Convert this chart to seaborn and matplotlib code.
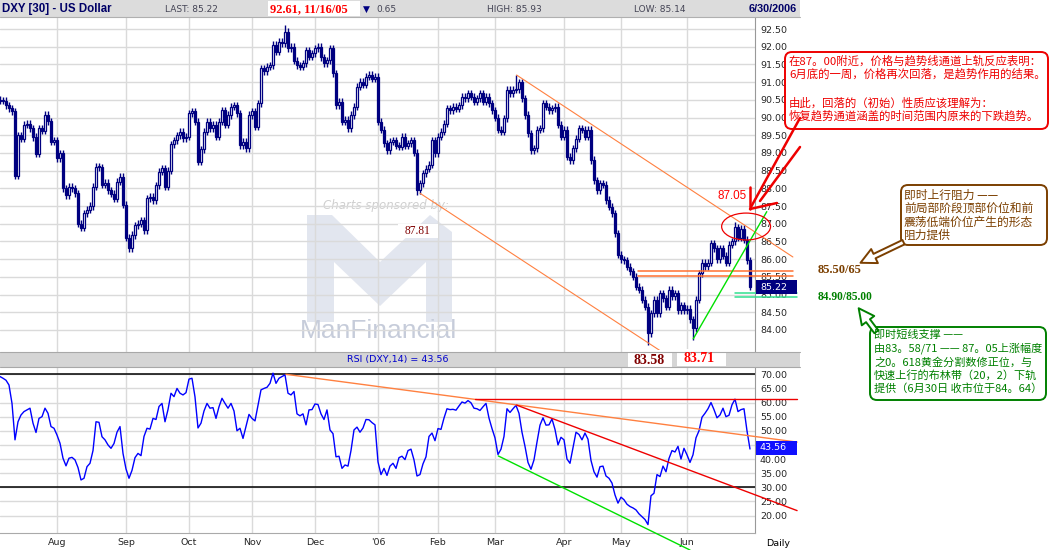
import numpy as np
import pandas as pd
import matplotlib
matplotlib.use("Agg")
import matplotlib.pyplot as plt
import matplotlib.patches as mpatches
from matplotlib.patches import FancyBboxPatch, FancyArrowPatch
from matplotlib.ticker import FormatStrFormatter
import seaborn as sns

# ---- daily closes of DXY ----
jul_close = [90.5, 90.47, 90.47, 90.35, 90.26, 90.17, 88.35, 89.5, 89.4, 89.79, 89.83, 89.7, 89.45, 88.98, 89.7,
             89.62, 90.07, 89.9, 89.32, 89.36]
aug_close = [88.85, 88.99, 88.0, 87.8, 88.05, 88.0, 87.86, 87.0, 86.88, 87.3, 87.4, 87.5, 88.05, 88.61, 88.6,
             88.1, 88.15, 87.95, 87.85, 87.7, 88.19, 88.33, 87.53]
sep_close = [86.6, 86.3, 86.68, 86.96, 87.0, 87.1, 86.82, 87.72, 87.76, 87.67, 88.09, 88.47, 88.56, 88.05, 88.5,
             89.25, 89.36, 89.5, 89.6, 89.41, 89.46]
oct_close = [90.12, 90.17, 89.88, 88.75, 89.1, 89.6, 89.88, 89.69, 89.79, 89.46, 89.88, 90.21, 89.79, 90.07, 90.3,
             90.35, 90.12, 89.22, 89.32, 89.13, 90.07]
nov_close = [90.17, 89.74, 90.4, 91.39, 91.3, 91.44, 91.48, 92.05, 91.86, 92.14, 92.1, 92.42, 91.95, 92.0, 91.6,
             91.48, 91.44, 91.53, 91.9, 91.72, 91.81]
dec_close = [91.95, 92.0, 91.7, 91.53, 91.62, 91.95, 91.25, 90.35, 90.45, 89.88, 89.93, 89.69, 90.07, 90.3, 90.87,
             91.01, 90.92, 91.15, 91.2, 91.1, 91.15]
jan_close = [89.88, 89.65, 89.27, 89.08, 89.32, 89.36, 89.2, 89.18, 89.46, 89.2, 89.27, 89.36, 89.0, 87.95, 88.14,
             88.42, 88.55, 88.66, 89.36, 88.99]
feb_close = [89.46, 89.6, 89.83, 90.26, 90.2, 90.3, 90.25, 90.35, 90.59, 90.55, 90.68, 90.59, 90.45, 90.54, 90.68,
             90.45, 90.59, 90.4, 90.21]
mar_close = [90.0, 89.65, 89.6, 89.98, 90.78, 90.68, 90.78, 90.8, 91.0, 90.54, 90.07, 89.55, 89.08, 89.13, 89.65,
             89.7, 90.4, 90.3, 90.2, 90.26, 90.3, 89.79, 89.46]
apr_close = [89.65, 88.89, 88.8, 89.13, 89.4, 89.69, 89.65, 89.46, 89.65, 88.8, 88.23, 87.95, 88.14, 88.1, 87.67,
             87.48, 87.29, 86.73, 86.12]
may_close = [86.0, 85.97, 85.79, 85.65, 85.5, 85.22, 85.13, 84.85, 84.66, 83.9, 84.47, 84.85, 84.47, 85.03, 84.9,
             84.66, 85.13, 84.95, 85.03, 84.56, 84.7, 84.56]
jun_close = [84.6, 84.3, 84.04, 84.85, 85.6, 85.9, 85.8, 85.9, 86.45, 86.3, 86.0, 86.3, 86.1, 85.9, 86.4,
             86.5, 86.9, 86.6, 86.85, 86.55, 85.97, 85.22]

# ---- RSI(14) ----
jul_rsi = [69.5, 69.2, 68.6, 67.9, 66.2, 59.7, 46.8, 53.2, 55.6, 56.8, 57.4, 58.0, 52.7, 49.4, 54.4, 55.0, 58.0,
           56.2, 51.5, 50.9]
aug_rsi = [48.5, 45.6, 40.3, 37.6, 40.3, 40.6, 39.7, 37.0, 32.6, 33.2, 37.3, 38.5, 43.0, 53.2, 53.0, 47.9, 46.8,
           45.0, 43.8, 45.5, 49.5, 51.5, 42.0]
sep_rsi = [36.5, 33.2, 36.0, 40.5, 42.0, 41.2, 48.0, 50.9, 50.6, 54.4, 54.0, 58.6, 59.7, 53.2, 57.5, 63.3, 62.1,
           65.0, 63.3, 62.7, 63.5]
oct_rsi = [68.3, 68.6, 62.0, 51.0, 52.7, 57.0, 59.7, 58.0, 58.2, 54.4, 58.5, 61.5, 59.7, 58.0, 59.7, 57.0, 50.0,
           50.9, 47.3, 51.5, 55.8]
nov_rsi = [54.4, 53.5, 59.1, 64.5, 65.0, 65.4, 66.8, 70.4, 66.8, 68.6, 69.2, 69.8, 63.3, 62.7, 63.9, 56.0, 55.3,
           56.0, 52.1, 57.4, 57.5]
dec_rsi = [59.5, 59.3, 56.0, 54.0, 57.4, 50.3, 49.0, 40.8, 41.0, 36.7, 37.9, 37.5, 43.0, 50.3, 51.3, 49.5, 51.0,
           54.0, 53.9, 52.9, 52.1]
jan_rsi = [39.0, 34.5, 36.7, 34.2, 37.5, 38.5, 36.7, 40.5, 41.0, 39.8, 43.0, 43.5, 39.7, 34.0, 34.5, 38.3, 40.8,
           48.0, 49.2, 46.5]
feb_rsi = [50.8, 50.5, 54.5, 57.8, 57.5, 57.6, 57.3, 58.8, 60.2, 59.8, 60.7, 59.9, 58.0, 57.8, 57.2, 58.5, 59.7,
           54.5, 50.8]
mar_rsi = [47.5, 41.6, 43.5, 48.0, 57.8, 56.5, 57.8, 59.0, 56.2, 49.5, 44.5, 38.8, 36.4, 39.7, 46.0, 52.0, 54.6,
           52.0, 52.1, 54.2, 50.5, 45.0, 47.7]
apr_rsi = [46.8, 40.0, 38.5, 44.0, 49.5, 48.7, 46.8, 49.2, 47.0, 39.5, 35.5, 33.6, 37.3, 37.5, 34.0, 33.2, 31.5,
           27.3, 24.4]
may_rsi = [26.5, 25.6, 24.0, 23.2, 22.7, 22.0, 20.6, 19.6, 18.6, 16.8, 27.0, 27.9, 34.5, 33.8, 37.5, 35.5, 40.2,
           43.0, 42.5, 44.5, 40.0, 43.8]
jun_rsi = [41.5, 38.8, 41.5, 47.5, 50.0, 54.8, 56.2, 57.8, 60.0, 57.5, 54.6, 55.6, 58.0, 55.0, 55.5, 59.2, 61.2,
           56.8, 57.5, 57.8, 50.0, 43.56]

# labelled extremes (trading-day index -> price)
high_marks = {96: 92.61, 173: 91.2, 246: 87.05}
low_marks = {140: 87.81, 217: 83.58, 232: 83.71}

holidays = ['2005-07-04', '2005-09-05', '2005-11-24', '2005-12-26', '2006-01-02', '2006-01-16',
            '2006-02-20', '2006-04-14', '2006-05-29']
month_names = ['Aug', 'Sep', 'Oct', 'Nov', 'Dec', "'06", 'Feb', 'Mar', 'Apr', 'May', 'Jun']

# trend lines drawn on the chart (trading-day index, value)
chan_top = ([173.2, 265.3], [91.2, 86.06])
chan_bot = ([141.0, 228.3], [87.86, 83.01])
res_levels = [85.66, 85.51]
res_span = [213.7, 265.3]
sup_levels = [85.03, 84.92]
sup_span = [246.0, 266.7]
up_trend = ([232.1, 256.6], [83.75, 87.34])
rsi_top = ([96.3, 266.7], [70.0, 46.0])
rsi_flat = 61.1
rsi_flat_span = [159.3, 266.7]
rsi_fall = ([173.2, 266.7], [59.1, 21.75])
rsi_floor = ([167.1, 231.0], [41.1, 7.8])

close = np.array(jul_close + aug_close + sep_close + oct_close + nov_close + dec_close +
                 jan_close + feb_close + mar_close + apr_close + may_close + jun_close)
rsi = np.array(jul_rsi + aug_rsi + sep_rsi + oct_rsi + nov_rsi + dec_rsi +
               jan_rsi + feb_rsi + mar_rsi + apr_rsi + may_rsi + jun_rsi)

days = pd.bdate_range('2005-07-01', '2006-06-30')
days = days[~days.isin(pd.to_datetime(holidays))]
n = len(days)
x = np.arange(n)
month_idx = [i for i in range(1, n) if days[i].month != days[i - 1].month]

sns.set_style("white")
plt.rcParams['font.family'] = ['DejaVu Sans']

W, H = 1051, 550
fig = plt.figure(figsize=(W / 100, H / 100), dpi=100)
NAVY = '#000080'
ORANGE = '#ff8040'
GRID = '#dadada'
CJK = ['Noto Sans CJK SC', 'DejaVu Sans']

ax_p = fig.add_axes([0, 1 - 352 / H, 755 / W, 335 / H])
ax_r = fig.add_axes([0, 1 - 533 / H, 755 / W, 166 / H])
ov = fig.add_axes([0, 0, 1, 1], zorder=10)
ov.set_xlim(0, W)
ov.set_ylim(H, 0)
ov.axis('off')
px = ov.transData

# ---- watermark ----
m_shape = [(307, 322), (307, 215), (332, 215), (380, 262), (430, 215), (452, 232), (452, 322),
           (426, 322), (426, 262), (380, 306), (334, 262), (334, 322)]
ax_p.add_patch(mpatches.Polygon(m_shape, closed=True, fc='#e2e6ef', ec='none', transform=px, zorder=0.2))
ax_p.text(323, 205, 'Charts sponsored by:', transform=px, fontsize=8.5, style='italic',
          color='#cfcfcf', va='center', zorder=0.2)
ax_p.text(378, 331, 'ManFinancial', transform=px, fontsize=19, color='#c6ccda', ha='center',
          va='center', family='Liberation Sans', zorder=0.2)

# ---- candles ----
opn = np.r_[close[0], close[:-1]]
up = close >= opn
b_lo = np.minimum(opn, close)
b_hi = np.maximum(opn, close)
hi = b_hi + 0.1
lo = b_lo - 0.1
for k, v in high_marks.items():
    hi[k] = v
for k, v in low_marks.items():
    lo[k] = v
ax_p.vlines(x, lo, hi, color=NAVY, lw=1.0, zorder=3)
hgt = np.maximum(b_hi - b_lo, 0.03)
ax_p.bar(x[up], hgt[up], bottom=b_lo[up], width=0.7, color='white', edgecolor=NAVY, lw=0.9, zorder=4)
ax_p.bar(x[~up], hgt[~up], bottom=b_lo[~up], width=0.7, color=NAVY, edgecolor=NAVY, lw=0.9, zorder=4)

# ---- price trend lines ----
ax_p.plot(*chan_top, color=ORANGE, lw=0.8, clip_on=False, zorder=5)
ax_p.plot(*chan_bot, color=ORANGE, lw=0.8, clip_on=False, zorder=5)
for lv in res_levels:
    ax_p.plot(res_span, [lv, lv], color='#ff7030', lw=1.1, clip_on=False, zorder=5)
for lv in sup_levels:
    ax_p.plot(sup_span, [lv, lv], color='#30e090', lw=1.1, clip_on=False, zorder=5)
ax_p.plot(*up_trend, color='#00e000', lw=1.0, clip_on=False, zorder=5)
ax_p.add_patch(mpatches.Ellipse((249.7, 86.92), 16.3, 0.76, fill=False, ec='#ee0000', lw=0.9,
                                clip_on=False, zorder=6))

ax_p.set_xlim(1, 252.67)
ax_p.set_ylim(92.5 - (352 - 29) / 35.4, 92.5 + 12 / 35.4)
ax_p.set_yticks(np.arange(84, 92.51, 0.5))
ax_p.yaxis.set_major_formatter(FormatStrFormatter('%.2f'))
ax_p.yaxis.tick_right()
ax_p.set_xticks(month_idx)
ax_p.set_xticklabels([])
ax_p.tick_params(length=0, labelsize=6.8, pad=3.6)
ax_p.grid(True, color=GRID, lw=1)
ax_p.set_axisbelow(True)
for s in ['top', 'left', 'bottom']:
    ax_p.spines[s].set_visible(False)
ax_p.spines['right'].set_color('#999999')

# ---- RSI panel ----
sns.lineplot(x=x, y=rsi, ax=ax_r, color='#0000ff', lw=1.0, zorder=4)
for lv in [70, 30]:
    ax_r.axhline(lv, color='black', lw=1.1, zorder=3)
ax_r.plot(*rsi_top, color=ORANGE, lw=1.0, clip_on=False, zorder=5)
ax_r.plot(rsi_flat_span, [rsi_flat, rsi_flat], color='#ee0000', lw=1.0, clip_on=False, zorder=5)
ax_r.plot(*rsi_fall, color='#ee0000', lw=1.0, clip_on=False, zorder=5)
ax_r.plot(*rsi_floor, color='#00e000', lw=1.0, clip_on=False, zorder=5)
ax_r.set_xlim(1, 252.67)
ax_r.set_ylim(70 - (533 - 374.3) / 2.825, 70 + (374.3 - 367) / 2.825)
ax_r.set_yticks(np.arange(20, 70.1, 5))
ax_r.yaxis.set_major_formatter(FormatStrFormatter('%.2f'))
ax_r.yaxis.tick_right()
ax_r.set_xticks(month_idx)
ax_r.set_xticklabels(month_names)
ax_r.tick_params(length=0, labelsize=6.8, pad=3.6)
ax_r.grid(True, color=GRID, lw=1)
ax_r.set_axisbelow(True)
ax_r.set_xlabel('')
ax_r.set_ylabel('')
for s in ['top', 'left']:
    ax_r.spines[s].set_visible(False)
ax_r.spines['right'].set_color('#999999')
ax_r.spines['bottom'].set_color('#aaaaaa')

# ---- header bar ----
ov.add_patch(mpatches.Rectangle((0, 0), 800, 17, fc='#dcdcdc', ec='none'))
ov.plot([0, 800], [17, 17], color='#b0b0b0', lw=0.8)
ov.add_patch(mpatches.Rectangle((268, 1), 92, 15, fc='white', ec='none'))
ov.text(2, 9, 'DXY [30] - US Dollar', fontsize=8.3, weight='bold', color='#000066', va='center',
        family='Liberation Sans')
ov.text(165, 9, 'LAST: 85.22', fontsize=6.5, color='#444455', va='center')
ov.text(270, 9, '92.61, 11/16/05', fontsize=9, weight='bold', color='#ff0000', va='center',
        family='Liberation Serif')
ov.text(363, 9, '\u25bc', fontsize=6.5, color=NAVY, va='center')
ov.text(376, 9, '0.65', fontsize=6.5, color='#444455', va='center')
ov.text(487, 9, 'HIGH: 85.93', fontsize=6.5, color='#444455', va='center')
ov.text(634, 9, 'LOW: 85.14', fontsize=6.5, color='#444455', va='center')
ov.text(797, 9, '6/30/2006', fontsize=7.8, weight='bold', color='#000066', va='center', ha='right',
        family='Liberation Sans')

# ---- RSI header bar ----
ov.add_patch(mpatches.Rectangle((0, 352), 800, 15, fc='#d5d5d5', ec='none'))
ov.plot([0, 800], [352, 352], color='#a8a8a8', lw=0.8)
ov.plot([0, 800], [367, 367], color='#a8a8a8', lw=0.8)
ov.text(398, 359.5, 'RSI (DXY,14) = 43.56', fontsize=6.8, color='#0000cc', ha='center', va='center')
ov.add_patch(mpatches.Rectangle((628, 350), 44, 18, fc='white', ec='none'))
ov.add_patch(mpatches.Rectangle((677, 349), 49, 17, fc='white', ec='none'))
ov.text(649, 360, '83.58', fontsize=10, weight='bold', color='#800000', ha='center', va='center',
        family='Liberation Serif')
ov.text(699, 358, '83.71', fontsize=10, weight='bold', color='#ff0000', ha='center', va='center',
        family='Liberation Serif')

# ---- value boxes on the axes ----
ov.add_patch(mpatches.Rectangle((756, 280), 41, 14, fc=NAVY, ec='none'))
ov.text(760, 287, '85.22', fontsize=6.8, color='white', va='center')
ov.add_patch(mpatches.Rectangle((756, 441), 41, 14, fc='#1010ff', ec='none'))
ov.text(760, 448, '43.56', fontsize=6.8, color='white', va='center')
ov.text(766, 543, 'Daily', fontsize=6.8, color='black', va='center')

# ---- chart labels ----
ov.add_patch(mpatches.Rectangle((398, 224), 40, 14, fc='white', ec='none'))
ov.text(418, 231, '87.81', fontsize=8.3, color='#800000', ha='center', va='center',
        family='Liberation Serif')
ov.text(732, 196, '87.05', fontsize=8.4, color='#ff0000', ha='center', va='center',
        family='Liberation Sans')

# red arrow from the note
for (x0, y0), (x1, y1) in [((800, 118), (751, 207)), ((800, 147), (760, 201)),
                           ((750, 187), (750, 209)), ((750, 209), (777, 203))]:
    ov.plot([x0, x1], [y0, y1], color='#ee0000', lw=1.8, solid_capstyle='round')

# ---- note boxes ----
def note(x0, y0, w, h, color, lines, ys, size, tx):
    ov.add_patch(FancyBboxPatch((x0, y0), w, h, boxstyle='round,pad=0,rounding_size=7',
                                fc='white', ec=color, lw=1.4))
    for t, yy in zip(lines, ys):
        ov.text(tx, yy, t, fontsize=size, color=color, va='center', family=CJK)

note(785, 52, 263, 77, '#ee0000',
     ['在87。00附近，价格与趋势线通道上轨反应表明：', '6月底的一周，价格再次回落，是趋势作用的结果。',
      '由此，回落的（初始）性质应该理解为：', '恢复趋势通道涵盖的时间范围内原来的下跌趋势。'],
     [61, 74, 103, 116], 8.2, 789)
note(901, 185, 146, 60, '#7b3f00',
     ['即时上行阻力 ——', '前局部阶段顶部价位和前', '震荡低端价位产生的形态', '阻力提供'],
     [195, 208, 222, 235], 8.5, 904)
note(870, 327, 176, 73, '#008000',
     ['即时短线支撑 ——', '由83。58/71 —— 87。05上涨幅度', '之0。618黄金分割数修正位，与',
      '快速上行的布林带（20，2）下轨', '提供（6月30日 收市位于84。64）'],
     [335, 348, 362, 375, 388], 8.0, 874)

ov.text(818, 270, '85.50/65', fontsize=9, weight='bold', color='#7b3f00', va='center',
        family='Liberation Serif')
ov.text(818, 297, '84.90/85.00', fontsize=8.3, weight='bold', color='#008000', va='center',
        family='Liberation Serif')
ov.add_patch(FancyArrowPatch((906, 241), (858, 264),
                             arrowstyle='simple,head_length=0.8,head_width=0.8,tail_width=0.25',
                             mutation_scale=14, fc='white', ec='#7b3f00', lw=1.4))
ov.add_patch(FancyArrowPatch((878, 334), (857, 306),
                             arrowstyle='simple,head_length=0.8,head_width=0.8,tail_width=0.25',
                             mutation_scale=14, fc='white', ec='#008000', lw=1.4))

fig.savefig('out.png', dpi=100)
